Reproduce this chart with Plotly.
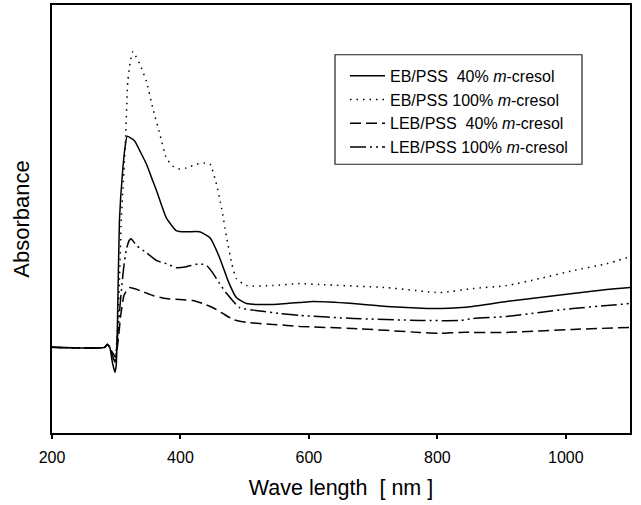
import plotly.graph_objects as go

# ---- data (wavelength in nm, absorbance in arbitrary units) ----
wl_eb40 = [200, 282, 286, 290, 294, 298, 300, 302, 305, 310,
           314, 317, 323, 329, 337, 347, 357, 363, 378, 394,
           409, 430, 446, 461, 474, 487, 503, 544, 586, 606,
           669, 721, 784, 804, 855, 908, 959, 1011, 1064, 1100]
abs_eb40 = [0.86, 0.86, 0.89, 0.86, 0.71, 0.61, 0.68, 1.13, 2.13, 2.63,
            2.88, 2.98, 2.96, 2.93, 2.83, 2.70, 2.53, 2.43, 2.16, 2.03,
            2.02, 2.02, 1.96, 1.76, 1.53, 1.36, 1.30, 1.29, 1.31, 1.32,
            1.30, 1.27, 1.25, 1.25, 1.27, 1.32, 1.36, 1.40, 1.44, 1.46]

wl_eb100 = [200, 282, 286, 290, 294, 298, 301, 304, 308, 312,
            315, 318, 322, 326, 329, 337, 347, 357, 368, 378,
            388, 399, 409, 425, 438, 446, 456, 464, 472, 480,
            487, 503, 544, 586, 617, 721, 804, 855, 908, 959,
            1011, 1064, 1100]
abs_eb100 = [0.86, 0.86, 0.89, 0.86, 0.73, 0.75, 0.93, 1.33, 2.16, 2.63,
             3.03, 3.53, 3.73, 3.83, 3.80, 3.70, 3.53, 3.26, 3.00, 2.76,
             2.68, 2.65, 2.66, 2.70, 2.71, 2.70, 2.50, 2.26, 1.96, 1.70,
             1.55, 1.48, 1.48, 1.50, 1.49, 1.46, 1.41, 1.45, 1.48, 1.55,
             1.63, 1.70, 1.77]

wl_leb40 = [200, 282, 286, 290, 294, 299, 303, 307, 312, 317,
            321, 337, 357, 378, 399, 419, 435, 450, 466, 482,
            503, 544, 566, 586, 669, 772, 804, 835, 908, 1011,
            1100]
abs_leb40 = [0.86, 0.86, 0.89, 0.86, 0.81, 0.76, 0.93, 1.18, 1.38, 1.44,
             1.46, 1.43, 1.38, 1.35, 1.34, 1.33, 1.30, 1.26, 1.20, 1.14,
             1.11, 1.09, 1.08, 1.07, 1.05, 1.01, 1.00, 1.01, 1.01, 1.04,
             1.06]

wl_leb100 = [200, 282, 286, 290, 294, 298, 301, 304, 308, 312,
             316, 320, 323, 332, 347, 363, 378, 394, 409, 430,
             441, 450, 461, 472, 492, 518, 555, 586, 669, 772,
             835, 855, 908, 959, 1011, 1064, 1100]
abs_leb100 = [0.86, 0.86, 0.89, 0.86, 0.78, 0.71, 0.88, 1.13, 1.43, 1.68,
              1.85, 1.93, 1.95, 1.88, 1.81, 1.73, 1.70, 1.66, 1.67, 1.70,
              1.68, 1.61, 1.50, 1.40, 1.26, 1.23, 1.20, 1.18, 1.15, 1.13,
              1.13, 1.15, 1.17, 1.21, 1.25, 1.28, 1.30]

names = ["EB/PSS&nbsp;&nbsp;40% <i>m</i>-cresol",
         "EB/PSS 100% <i>m</i>-cresol",
         "LEB/PSS&nbsp;&nbsp;40% <i>m</i>-cresol",
         "LEB/PSS 100% <i>m</i>-cresol"]

x_ticks = [200, 400, 600, 800, 1000]
x_range = [200, 1100]
y_range = [0, 4.297]

FONT = "Liberation Sans, Arial, sans-serif"

fig = go.Figure()
series = [
    (wl_eb40, abs_eb40, names[0], "solid"),
    (wl_eb100, abs_eb100, names[1], "1.5px,5px"),
    (wl_leb40, abs_leb40, names[2], "11px,5px"),
    (wl_leb100, abs_leb100, names[3], "16px,4px,2px,4px,2px,4px"),
]
for xs, ys, nm, dash in series:
    fig.add_trace(go.Scatter(
        x=xs, y=ys, name=nm, mode="lines",
        line=dict(color="black", width=1.5, dash=dash, shape="spline", smoothing=0.5),
    ))

W, H = 641, 505
L, R, T, B = 52, 11, 3, 72

def px_x(p):
    return (p - L) / (W - L - R)

def px_y(p):
    return (H - B - p) / (H - B - T)

fig.update_layout(
    width=W, height=H, autosize=False,
    margin=dict(l=L, r=R, t=T, b=B),
    paper_bgcolor="white", plot_bgcolor="white",
    font=dict(family=FONT, color="black"),
    showlegend=True,
    legend=dict(
        x=px_x(345), y=px_y(57), xanchor="left", yanchor="top",
        bgcolor="rgba(0,0,0,0)", borderwidth=0,
        font=dict(family=FONT, size=16, color="black"),
        tracegroupgap=0, itemwidth=35,
    ),
    xaxis=dict(
        range=x_range, tickvals=x_ticks, ticktext=[str(v) for v in x_ticks],
        showline=True, linecolor="black", linewidth=2, mirror=True,
        ticks="outside", ticklen=4, tickwidth=1.5, tickcolor="black",
        tickfont=dict(size=16, family=FONT, color="black"),
        ticklabelstandoff=5,
        showgrid=False, zeroline=False,
        title=dict(text="Wave length&nbsp;&nbsp;[ nm ]",
                   font=dict(size=21.5, family=FONT, color="black"), standoff=15),
    ),
    yaxis=dict(
        range=y_range, showticklabels=False, ticks="",
        showline=True, linecolor="black", linewidth=2, mirror=True,
        showgrid=False, zeroline=False,
        title=dict(text="Absorbance", font=dict(size=22, family=FONT, color="black"),
                   standoff=14),
    ),
    shapes=[dict(type="rect", xref="paper", yref="paper",
                 x0=px_x(335), x1=px_x(582), y0=px_y(163), y1=px_y(53),
                 line=dict(color="#222", width=1.2), fillcolor="rgba(0,0,0,0)")],
)

fig.write_html("out.html",
               config={"displayModeBar": False},
               post_script="document.body.style.margin='0px';document.body.style.padding='0px';")
